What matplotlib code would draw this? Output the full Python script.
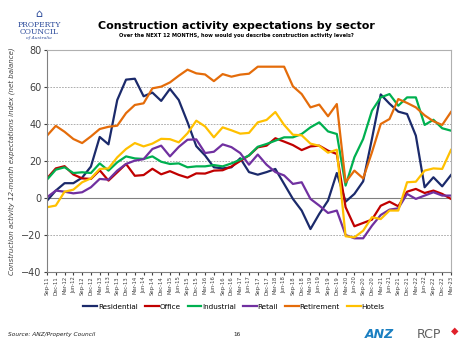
import numpy as np
import matplotlib
matplotlib.use('Agg')
import matplotlib.pyplot as plt

# quarterly labels Sep-11 .. Mar-23
quarters = ['Sep', 'Dec', 'Mar', 'Jun']
labels = []
yr, q = 11, 0
while True:
    labels.append('%s-%02d' % (quarters[q], yr))
    if quarters[q] == 'Mar' and yr == 23:
        break
    q = (q + 1) % 4
    if quarters[q] == 'Mar':
        yr += 1

residential = [-1.5, 4, 8, 8, 11, 17, 33, 29, 53, 64, 64.5, 55, 57, 52.5, 59, 53, 41, 28, 23, 16.6, 16, 16.6, 21.5,
               14, 12.6, 14, 15.7, 7.6, -0.5, -6.8, -16.8, -8.6, -1.4, 13.5, -2, 2.2, 9, 32, 56, 51, 46.7, 45.4,
               33.7, 5.8, 11.2, 6.3, 12.4]
office = [10.6, 16, 17.2, 12.7, 10.6, 10.3, 15, 9.4, 13.9, 18.4, 12, 12.4, 15.8, 12.8, 14.5, 12.5, 11, 13.3, 13.2, 14.8,
          15, 17, 20, 23, 27.4, 28.3, 32.3, 30.5, 28.6, 25.9, 27.9, 28.3, 25.6, 23.8, -5, -15.3, -13.5, -11.7, -4.2,
          -2, -4.5, 3.4, 4.9, 2.7, 4, 2.2, -0.5]
industrial = [9.9, 15.3, 16.6, 13.5, 13.9, 13.5, 18.7, 14.8, 19.3, 22.5, 21.4, 21.1, 22.5, 19.6, 18.4, 18.7, 16.6, 17.1,
              17.1, 17.8, 17.1, 18.7, 20.7, 23, 27.7, 29.2, 31, 32.8, 32.8, 34.6, 38.2, 40.9, 36, 34.6, 6.7, 22, 31.9,
              47.2, 54.4, 56.2, 49.9, 54.4, 54.4, 39.5, 42.3, 37.7, 36.4]
retail = [0.4, 4, 3.4, 2.5, 3.1, 5.8, 10.3, 9.9, 14.8, 18.4, 20.2, 21, 26.5, 28.3, 22.5, 27.6, 31.5, 31.7, 24.3, 25,
          29, 27.5, 24.3, 18, 23.5, 18, 14, 12.2, 7.6, 8.5, -0.5, -4.1, -8.1, -6.8, -20, -21.8, -21.8, -15, -9.2,
          -6.3, -5.6, 2.2, -0.5, 1.3, 3.1, 1.3, 1.3]
retirement = [33.7, 39, 35.8, 31.9, 29.7, 33.3, 37.3, 38.5, 39.1, 45.9, 50.3, 51.2, 59.3, 60.2, 62.5, 66.1, 69.4, 67.4,
              66.8, 63.2, 67, 65.6, 66.7, 67.2, 71, 71, 71, 71, 60.4, 56.2, 49, 50.5, 44.2, 50.8, 8.5, 14.8, 10.6,
              24.7, 40, 42.7, 53.5, 51.4, 49, 44.7, 41.5, 39.5, 46.5]
hotels = [-5, -4.1, 3.4, 4.5, 8.5, 10.6, 15.7, 16, 22, 26.5, 29.7, 27.9, 29.4, 32, 31.8, 30.1, 35, 41.8, 38.7, 32.8,
          38.2, 36.6, 34.8, 35.2, 40.9, 42.2, 46.5, 39.5, 34.2, 33.9, 29.4, 28.2, 24.5, 26.1, -20.7, -21.3, -17.7,
          -10.4, -11.4, -6.8, -6.8, 8.5, 8.8, 14.8, 16, 15.7, 26]

series = [('Residential', residential, '#1b2a6b'),
          ('Office', office, '#c00000'),
          ('Industrial', industrial, '#00b050'),
          ('Retail', retail, '#7030a0'),
          ('Retirement', retirement, '#e46c0a'),
          ('Hotels', hotels, '#ffc000')]

fig = plt.figure(figsize=(4.71, 3.5), dpi=100)
ax = fig.add_axes([0.0998, 0.223, 0.8577, 0.634])

x = np.arange(len(labels))
for name, vals, col in series:
    ax.plot(x, vals, color=col, lw=1.6, label=name)

ax.set_xlim(0, len(labels) - 1)
ax.set_ylim(-40, 80)
ax.set_yticks(range(-40, 81, 20))
ax.tick_params(axis='y', labelsize=7, length=2, colors='#404040', pad=2)
ax.set_xticks(x)
ax.set_xticklabels(labels, rotation=90, fontsize=3.8)
ax.tick_params(axis='x', length=2, pad=1, colors='#404040')

for v in [-20, 20, 40, 60]:
    ax.axhline(v, color='#a0a0a0', lw=0.6, ls=(0, (2, 1.5)), zorder=0)
ax.axhline(0, color='#808080', lw=0.8, zorder=0)
for s in ['top', 'right']:
    ax.spines[s].set_color('#b0b0b0')
    ax.spines[s].set_linewidth(0.8)
for s in ['left', 'bottom']:
    ax.spines[s].set_color('#808080')
    ax.spines[s].set_linewidth(0.8)

ax.set_ylabel('Construction activity 12-month expectations index (net balance)', fontsize=5,
              style='italic', color='#404040', labelpad=4)

ax.legend(loc='upper center', bbox_to_anchor=(0.463, -0.115), ncol=6, fontsize=5.2, frameon=False,
          handlelength=1.9, handletextpad=0.1, columnspacing=1.0)

fig.text(0.503, 0.918, 'Construction activity expectations by sector', ha='center', fontsize=8,
         fontweight='bold')
fig.text(0.503, 0.893, 'Over the NEXT 12 MONTHS, how would you describe construction activity levels?',
         ha='center', fontsize=3.7, fontweight='bold')

# logo text top left
fig.text(0.083, 0.952, '\u2302', ha='center', fontsize=8, color='#2b4a9a')
fig.text(0.083, 0.922, 'PROPERTY', ha='center', fontsize=5.5, color='#2b4a9a', family='serif')
fig.text(0.083, 0.903, 'COUNCIL', ha='center', fontsize=5.5, color='#2b4a9a', family='serif')
fig.text(0.083, 0.889, 'of Australia', ha='center', fontsize=3.2, color='#2b4a9a', style='italic',
         family='serif')

fig.text(0.017, 0.04, 'Source: ANZ/Property Council', fontsize=4.2, style='italic', color='#202020')
fig.text(0.503, 0.04, '16', fontsize=4.2, ha='center', color='#202020')
fig.text(0.775, 0.035, 'ANZ', fontsize=9, fontweight='bold', style='italic', color='#1a7fc1')
fig.text(0.885, 0.035, 'RCP', fontsize=9, color='#606060')
fig.text(0.965, 0.045, '\u25c6', fontsize=7, color='#e0202a', ha='center')

fig.savefig('out.png', dpi=100)
